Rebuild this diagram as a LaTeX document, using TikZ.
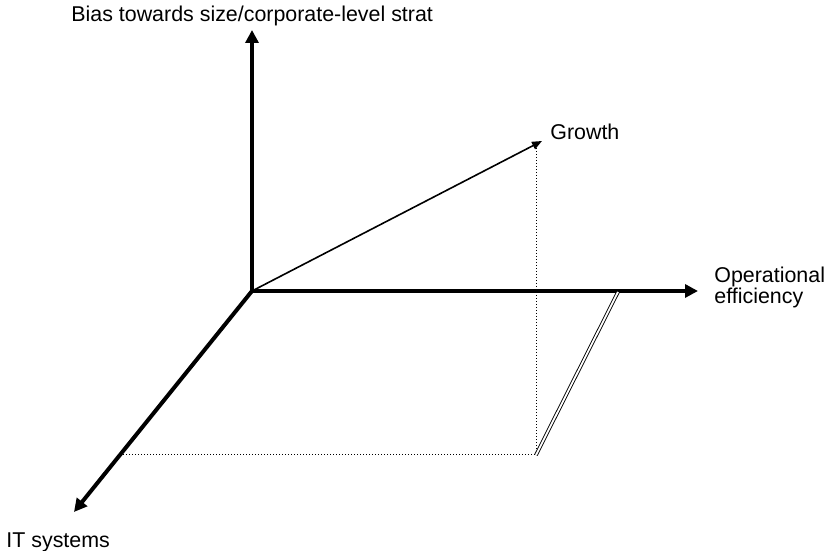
\documentclass[tikz,border=0pt]{standalone}
\usepackage{fontspec}
\setmainfont{Liberation Sans}
\usetikzlibrary{arrows.meta}
\tikzset{
  axis/.style={line width=2pt, -{Triangle[length=6.5pt,width=6.5pt]}},
  proj/.style={line width=0.5pt, densely dotted},
  lab/.style={font=\fontsize{10.7}{10.5}\selectfont, inner sep=0pt}
}
\begin{document}
\begin{tikzpicture}[x=0.5pt,y=-0.5pt]
\useasboundingbox (0,0) rectangle (832,551);
%Start with the origin, then the three axes
% and the labels at their ends
\coordinate (o) at (252,291);
\coordinate (up) at (252,30);
\coordinate (right) at (698,291);
\coordinate (down) at (74,512);
\draw[axis] (o) -- (up);
\draw[axis] (o) -- (right);
\draw[axis] (o) -- (down);
\node[lab,anchor=base west] (a) at (71,22) {Bias towards size/corporate-level strat};
\node[lab,anchor=base west] (b) at (714,283) {Operational};
\node[lab,anchor=base west] (b2) at (714,304) {efficiency};
\node[lab,anchor=base west] (c) at (6,547) {IT systems};
% the growth vector and its projections
\coordinate (g) at (542,141);
\coordinate (gx) at (536,455);
\coordinate (gy) at (123,455);
\coordinate (gz) at (618,292);
\draw[line width=0.8pt,-{Triangle[length=5pt,width=4pt]}] (o) -- (g);
\node[lab,anchor=base west] (d) at (550,140) {Growth};
\draw[proj] (536,145) -- (gx);
\draw[proj] (gy) -- (gx);
\draw[line width=0.45pt,double,double distance=0.9pt] (gx) -- (gz);
\end{tikzpicture}
\end{document}
